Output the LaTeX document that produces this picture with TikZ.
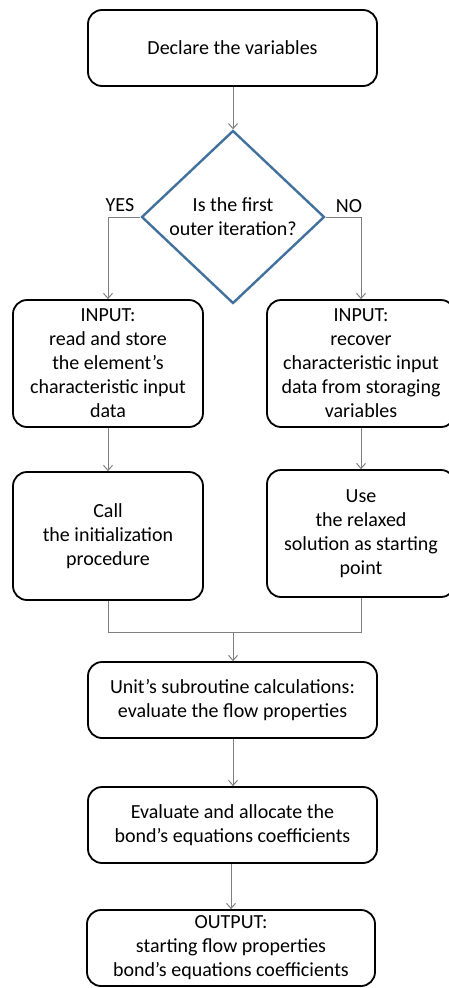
\documentclass[tikz,border=0pt]{standalone}
\usepackage{fontspec}
\setmainfont{Carlito}
\usetikzlibrary{shapes.geometric,arrows.meta}
\definecolor{conn}{HTML}{7F7F7F}
\definecolor{diab}{HTML}{41719C}
\begin{document}
\begin{tikzpicture}[x=1pt,y=-1pt,
  box/.style={draw=black,line width=1.8pt,rounded corners=14pt,align=center,
    font=\fontsize{20}{24}\selectfont,inner sep=0pt},
  dec/.style={draw=diab,line width=2.4pt,shape=diamond,align=center,
    font=\fontsize{20}{24}\selectfont,inner sep=0pt,minimum width=183pt,minimum height=173pt},
  conline/.style={draw=conn,line width=1pt},
  arr/.style={conline,-{Straight Barb[length=5pt,width=9pt]}},
  lbl/.style={font=\fontsize{20}{24}\selectfont,inner sep=0pt}]
\useasboundingbox (0,0) rectangle (449,988);
\node[box,minimum width=289pt,minimum height=76pt] (decl) at (232.5,48) {Declare the variables};
\node[dec] (dia) at (233,217) {Is the first\\outer iteration?};
\node[box,minimum width=190pt,minimum height=127pt] (in1) at (108,363.5)
  {INPUT:\\read and store\\the element’s\\characteristic input\\data};
\node[box,minimum width=188pt,minimum height=127pt] (in2) at (361,363.5)
  {INPUT:\\recover\\characteristic input\\data from storaging\\variables};
\node[box,minimum width=190pt,minimum height=128pt] (call) at (108,536)
  {Call\\the initialization\\procedure};
\node[box,minimum width=188pt,minimum height=127pt] (use) at (361,533.5)
  {Use\\the relaxed\\solution as starting\\point};
\node[box,minimum width=289pt,minimum height=76pt] (unit) at (232.5,700)
  {Unit’s subroutine calculations:\\evaluate the flow properties};
\node[box,minimum width=289pt,minimum height=76pt] (eval) at (232.5,825)
  {Evaluate and allocate the\\bond’s equations coefficients};
\node[box,minimum width=288pt,minimum height=76pt] (out) at (231,948)
  {OUTPUT:\\starting flow properties\\bond’s equations coefficients};
\node[lbl] (yes) at (120,205) {YES};
\node[lbl] (no) at (349,206) {NO};
\coordinate (m) at (233,632);
\draw[arr] (decl.south -| dia.north) -- (dia.north);
\draw[arr] (dia.west) -| (in1.north);
\draw[arr] (dia.east) -| (in2.north);
\draw[arr] (in1.south) -- (call.north);
\draw[arr] (in2.south) -- (use.north);
\draw[conline] (call.south) |- (m);
\draw[conline] (use.south) |- (m);
\draw[arr] (m) -- (m |- unit.north);
\draw[arr] (unit.south -| m) -- (eval.north -| m);
\draw[arr] (eval.south -| out.north) -- (out.north);
\end{tikzpicture}
\end{document}
